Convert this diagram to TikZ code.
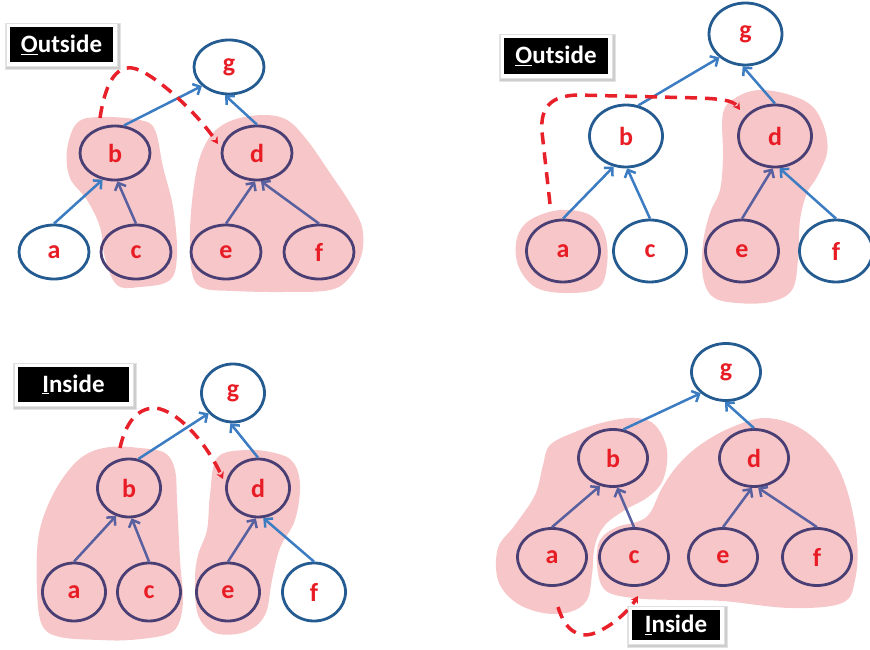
\documentclass[tikz,border=0pt]{standalone}
\usepackage{fontspec}
\setmainfont{Carlito}
\usetikzlibrary{shapes.geometric,arrows.meta}

\definecolor{nodeblue}{HTML}{245B91}
\definecolor{nodepurple}{HTML}{4A3F74}
\definecolor{edgeblue}{HTML}{3B7CC2}
\definecolor{edgepurple}{HTML}{5860A0}
\definecolor{labelred}{HTML}{E81C24}
\definecolor{blobpink}{HTML}{F7C6C8}
\definecolor{pathred}{HTML}{E8202A}

\tikzset{
  tnode/.style={ellipse, draw=nodeblue, line width=2.8pt, inner sep=0pt,
    text=labelred, font=\fontsize{26}{28}\selectfont\bfseries},
  inblob/.style={draw=nodepurple},
  edge/.style={draw=edgeblue, line width=2.5pt,
    -{Straight Barb[length=6pt,width=12pt,line width=2.5pt]}},
  inedge/.style={edge, draw=edgepurple},
  blob/.style={fill=blobpink, draw=none},
  walk/.style={draw=pathred, line width=3.5pt, dash pattern=on 12pt off 8pt,
    -{Stealth[length=7pt,width=8pt]}},
  tag/.style={fill=black, text=white, inner sep=0pt,
    font=\fontsize{25}{27}\selectfont\bfseries},
  tagshadow/.style={fill=black!60, fill opacity=0.18},
  tagframe/.style={fill=white, draw=black!12, line width=0.5pt}
}

% caption box: #1 name, #2 centre, #3 width, #4 height, #5 text
\newcommand\drawtag[5]{%
  \begin{scope}[shift={#2}]
    \fill[tagshadow] ({-#3/2-5},{-#4/2-4}) rectangle ({#3/2+8},{#4/2+8});
    \fill[tagshadow] ({-#3/2-4},{-#4/2-3}) rectangle ({#3/2+7},{#4/2+7});
    \filldraw[tagframe] ({-#3/2-4},{-#4/2-4}) rectangle ({#3/2+4},{#4/2+4});
  \end{scope}
  \node[tag, minimum width=#3pt, minimum height=#4pt] (#1) at #2 {#5};}

\begin{document}
\begin{tikzpicture}[x=1pt, y=-1pt]
\useasboundingbox (0,0) rectangle (870,650);

% ---------------- traversal 1: outside, from b to d ----------------
\begin{scope}[tnode/.append style={minimum width=70pt, minimum height=54pt}]
  \fill[blob] plot[smooth cycle, tension=0.6] coordinates {
    (77,123) (100,117) (140,120) (155,130) (163,167) (173,207) (177,253)
    (170,280) (140,287) (117,285) (105,258) (100,227) (87,200) (70,178) (67,150)};
  \fill[blob] plot[smooth cycle, tension=0.6] coordinates {
    (200,157) (213,133) (233,120) (263,115) (287,120) (307,140) (330,173)
    (350,203) (362,227) (362,253) (350,277) (330,290) (283,292) (233,291)
    (203,288) (192,273) (190,233) (193,193)};
  \node[tnode] (g1) at (229,67) {g};
  \node[tnode, inblob] (b1) at (115,153) {b};
  \node[tnode, inblob] (d1) at (257,153) {d};
  \node[tnode] (a1) at (54,252) {a};
  \node[tnode, inblob] (c1) at (136,252) {c};
  \node[tnode, inblob] (e1) at (226,252) {e};
  \node[tnode, inblob] (f1) at (319,252) {f};
  \draw[edge] (a1.north) -- (b1.245);
  \draw[inedge] (c1.north) -- (b1.275);
  \draw[edge] (b1.72) -- (g1.215);
  \draw[edge] (d1.north) -- (g1.262);
  \draw[inedge] (e1.north) -- (d1.266);
  \draw[inedge] (f1.north) -- (d1.278);
  \coordinate (s1) at (100,118);
  \coordinate (t1) at (218,144);
  \draw[walk] (s1) .. controls (105,85) and (115,66) .. (132,68)
              .. controls (150,70) and (195,110) .. (t1);
  \drawtag{o1}{(61.5,44.5)}{103}{35}{\underline{O}utside}
\end{scope}

% ---------------- traversal 2: outside, from a to d ----------------
\begin{scope}[tnode/.append style={minimum width=73pt, minimum height=62pt}]
  \fill[blob] plot[smooth cycle, tension=0.6] coordinates {
    (530,220) (560,210) (590,215) (605,235) (607,265) (598,288) (565,293)
    (535,287) (518,265) (517,238)};
  \fill[blob] plot[smooth cycle, tension=0.6] coordinates {
    (723,113) (737,97) (760,90) (790,95) (813,107) (825,130) (827,153)
    (817,177) (807,193) (800,220) (798,260) (792,290) (770,302) (737,303)
    (713,297) (703,277) (703,243) (710,213) (720,190) (723,157)};
  \node[tnode] (g2) at (745.5,34) {g};
  \node[tnode] (b2) at (626,136) {b};
  \node[tnode, inblob] (d2) at (775,136) {d};
  \node[tnode, inblob] (a2) at (563,251) {a};
  \node[tnode] (c2) at (650,251) {c};
  \node[tnode, inblob] (e2) at (742,251) {e};
  \node[tnode] (f2) at (836,251) {f};
  \draw[edge] (a2.north) -- (b2.248);
  \draw[edge] (c2.north) -- (b2.272);
  \draw[edge] (b2.68) -- (g2.222);
  \draw[edge] (d2.north) -- (g2.265);
  \draw[inedge] (e2.north) -- (d2.266);
  \draw[edge] (f2.north) -- (d2.278);
  \coordinate (s2) at (550,204);
  \coordinate (t2) at (740,110);
  \draw[walk] (s2) -- (542,132) .. controls (540,106) and (552,96) .. (577,95)
              -- (700,98) .. controls (720,99) and (733,100) .. (t2);
  \drawtag{o2}{(556,56)}{104}{36}{\underline{O}utside}
\end{scope}

% ---------------- traversal 3: inside, from b to d ----------------
\begin{scope}[tnode/.append style={minimum width=63pt, minimum height=58pt}]
  \fill[blob] plot[smooth cycle, tension=0.6] coordinates {
    (110,447) (140,448) (165,453) (175,470) (177,500) (180,560) (183,600)
    (178,625) (165,635) (130,640) (100,640) (60,637) (42,625) (37,590)
    (38,540) (48,505) (65,475) (85,455)};
  \fill[blob] plot[smooth cycle, tension=0.6] coordinates {
    (217,458) (245,450) (275,453) (293,462) (300,485) (295,520) (280,548)
    (272,580) (265,615) (245,632) (215,633) (198,615) (195,580) (198,555)
    (207,530) (210,495)};
  \node[tnode] (g3) at (233,393) {g};
  \node[tnode, inblob] (b3) at (129,488) {b};
  \node[tnode, inblob] (d3) at (258,488) {d};
  \node[tnode, inblob] (a3) at (74,592) {a};
  \node[tnode, inblob] (c3) at (149,592) {c};
  \node[tnode, inblob] (e3) at (228,592) {e};
  \node[tnode] (f3) at (314,592) {f};
  \draw[inedge] (a3.north) -- (b3.245);
  \draw[inedge] (c3.north) -- (b3.275);
  \draw[edge] (b3.72) -- (g3.220);
  \draw[edge] (d3.north) -- (g3.265);
  \draw[inedge] (e3.north) -- (d3.266);
  \draw[edge] (f3.north) -- (d3.280);
  \coordinate (s3) at (120,448);
  \coordinate (t3) at (223,479);
  \draw[walk] (s3) .. controls (125,425) and (136,408) .. (155,408)
              .. controls (177,410) and (206,442) .. (t3);
  \drawtag{o3}{(73.5,384.5)}{111}{35}{\underline{I}nside}
\end{scope}

% ---------------- traversal 4: inside, from a to c ----------------
\begin{scope}[tnode/.append style={minimum width=69pt, minimum height=57pt}]
  \fill[blob] plot[smooth cycle, tension=0.6] coordinates {
    (550,445) (575,432) (605,422) (635,418) (655,425) (667,450) (663,480)
    (648,497) (625,510) (605,525) (595,545) (592,575) (587,600) (570,612)
    (543,613) (515,602) (498,580) (498,548) (515,525) (535,495) (543,465)};
  \fill[blob] plot[smooth cycle, tension=0.6] coordinates {
    (650,513) (662,488) (678,465) (700,445) (730,428) (765,418) (800,428)
    (830,455) (847,490) (857,540) (855,580) (842,603) (790,608) (723,601)
    (677,600) (633,598) (605,590) (597,565) (600,540) (617,527) (637,522)};
  \node[tnode] (g4) at (726,372) {g};
  \node[tnode, inblob] (b4) at (613,458) {b};
  \node[tnode, inblob] (d4) at (754,458) {d};
  \node[tnode, inblob] (a4) at (552,557) {a};
  \node[tnode, inblob] (c4) at (634,557) {c};
  \node[tnode, inblob] (e4) at (723,557) {e};
  \node[tnode, inblob] (f4) at (817,557) {f};
  \draw[inedge] (a4.north) -- (b4.245);
  \draw[inedge] (c4.north) -- (b4.278);
  \draw[edge] (b4.70) -- (g4.220);
  \draw[edge] (d4.north) -- (g4.268);
  \draw[inedge] (e4.north) -- (d4.266);
  \draw[inedge] (f4.north) -- (d4.278);
  \coordinate (s4) at (558,607);
  \coordinate (t4) at (638,596);
  \draw[walk] (s4) .. controls (565,630) and (578,638) .. (592,634)
              .. controls (610,628) and (628,612) .. (t4);
  \drawtag{o4}{(676,625)}{88}{30}{\underline{I}nside}
\end{scope}
\end{tikzpicture}
\end{document}
